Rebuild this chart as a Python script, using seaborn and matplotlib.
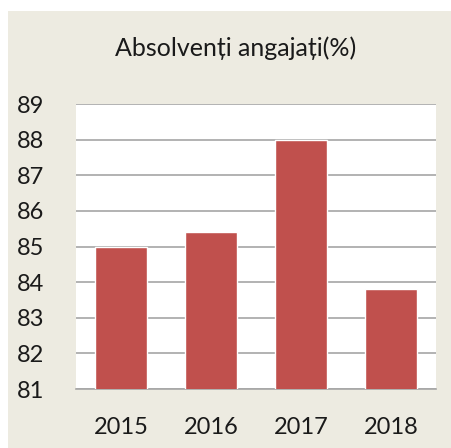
import seaborn as sns
import pandas as pd
import matplotlib.pyplot as plt
from matplotlib.patches import Rectangle

# values
years = ["2015", "2016", "2017", "2018"]
employed = [85.0, 85.4, 88.0, 83.8]
y_ticks = [81, 82, 83, 84, 85, 86, 87, 88, 89]

df = pd.DataFrame({"an": years, "angajati": employed})

sns.set_theme(style="white")
plt.rcParams["font.family"] = ["Lato", "DejaVu Sans"]

fig = plt.figure(figsize=(4.51, 4.48), dpi=100, facecolor="white")
# beige panel, leaving the thin white strip at the top and left
bg = Rectangle((8 / 451, 0), 1, 1 - 11 / 448, transform=fig.transFigure,
               facecolor="#edebe1", edgecolor="none", zorder=-10)
fig.add_artist(bg)

ax = fig.add_axes([76 / 451, 1 - 389 / 448, 360 / 451, 285 / 448])
ax.set_zorder(1)
ax.set_facecolor("white")

sns.barplot(ax=ax, data=df, x="an", y="angajati", color="#c0504d",
            width=0.567, saturation=1, zorder=3)

ax.set_ylim(81, 89)
ax.set_xlim(-0.5, 3.5)
ax.set_yticks(y_ticks)
ax.yaxis.grid(True, color="#a6a6a6", linewidth=1.2, zorder=0)
ax.set_axisbelow(True)
for s in ["top", "right", "left"]:
    ax.spines[s].set_visible(False)
ax.spines["bottom"].set_color("#a6a6a6")
ax.spines["bottom"].set_linewidth(1.2)

ax.tick_params(axis="y", length=0, pad=23, labelsize=17, labelcolor="#1a1a1a")
ax.tick_params(axis="x", length=0, pad=20, labelsize=17, labelcolor="#1a1a1a")
ax.set_xlabel("")
ax.set_ylabel("")

title = fig.text(236 / 451, 1 - 48 / 448, "Absolvenți angajați(%)", ha="center", va="center",
                 fontsize=18, color="#1a1a1a")
title.set_zorder(5)

plt.savefig("out.png", dpi=100, facecolor=fig.get_facecolor())
